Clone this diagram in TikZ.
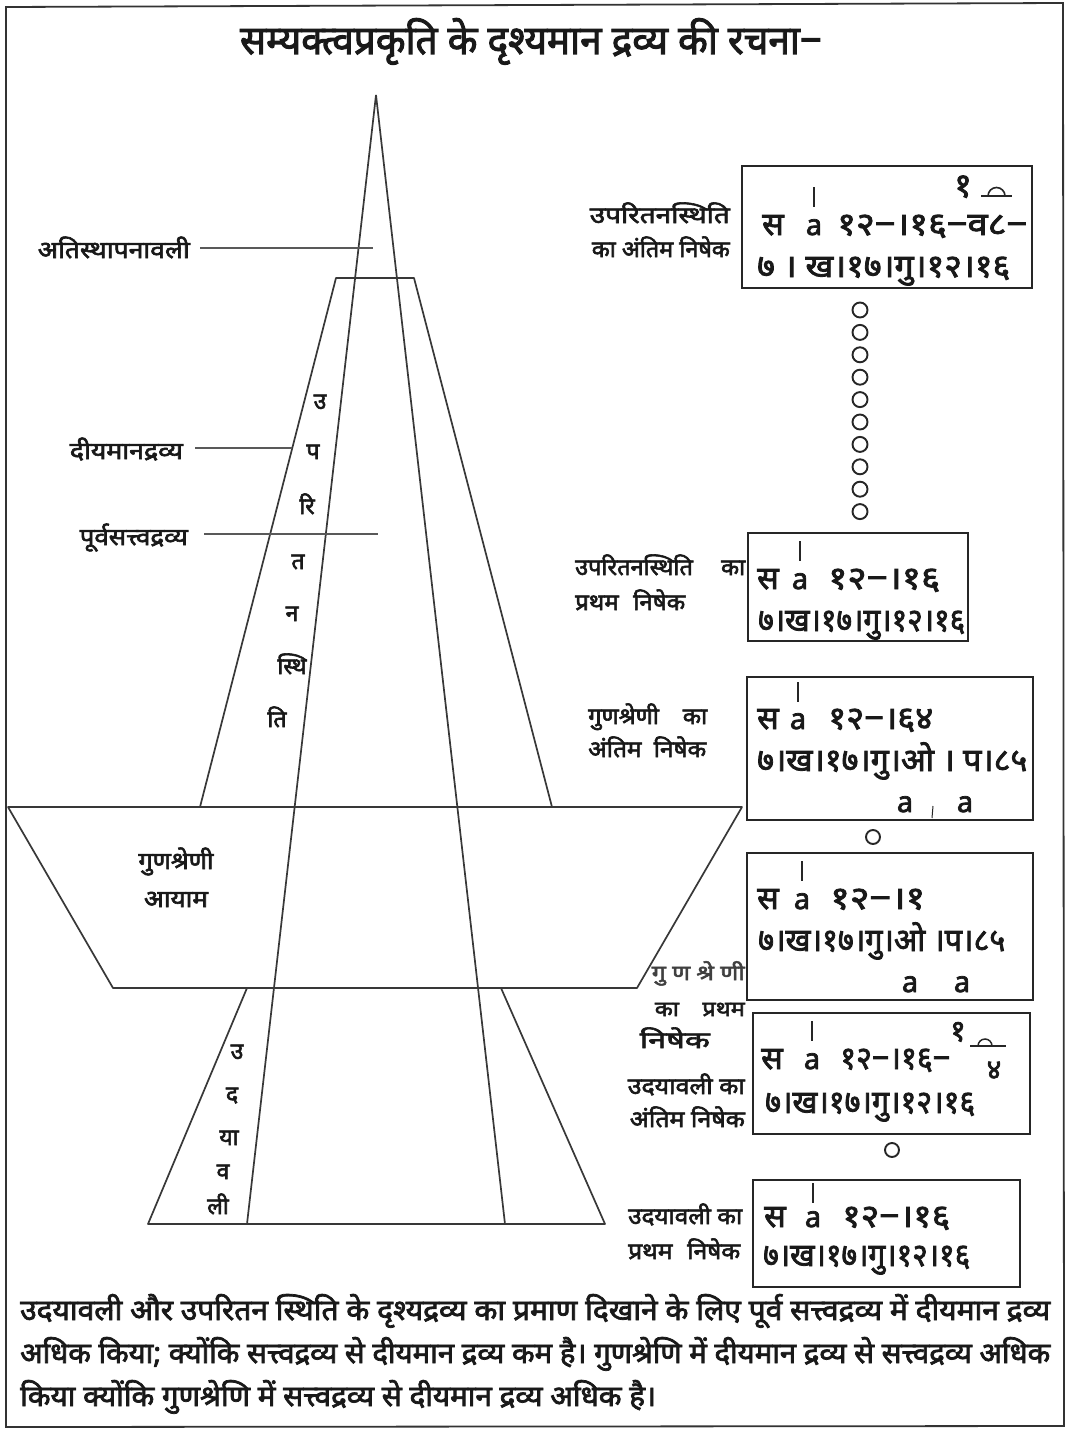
\documentclass[tikz,border=0pt]{standalone}
\usepackage{fontspec}
\usepackage{graphicx}
\newfontfamily\dev[Script=Devanagari,FakeBold=2.5]{Noto Sans}
\newcommand{\fw}[2]{\resizebox{#1pt}{\height}{#2}}
\newcommand{\fs}[1]{\fontsize{#1}{#1}\selectfont}
\begin{document}
\begin{tikzpicture}[x=1pt,y=-1pt,
  shp/.style={line width=1.7pt,draw=black!78,line join=round},
  boxl/.style={line width=2.1pt,draw=black!85},
  lead/.style={line width=1.2pt,draw=black!65},
  txt/.style={inner sep=0pt,font=\dev,text=black!90},
  bar/.style={line width=1.7pt,draw=black!85},
  dotc/.style={line width=1.9pt,draw=black!85}]
\useasboundingbox (0,0) rectangle (1070,1429);
\fill[white] (0,0) rectangle (1070,1429);
% frame
\draw[line width=1.8pt,draw=black!80] (6,7) -- (1063,3) -- (1064,1426) -- (6,1427) -- cycle;
% title
\node[txt,anchor=base] (title) at (531,54) {\fw{582}{\fs{40}सम्यक्त्वप्रकृति के दृश्यमान द्रव्य की रचना−}};
% shapes
\coordinate (apex) at (376,95);
\draw[shp] (apex) -- (247,1224);
\draw[shp] (apex) -- (505,1224);
\draw[shp] (200,807) -- (336,278) -- (414,278) -- (552,807);
\draw[shp] (8,807) -- (742,807) -- (637,988) -- (113,988) -- cycle;
\draw[shp] (247,988) -- (148,1224) -- (605,1224) -- (501,988);
% left labels
\node[txt,anchor=base east] (ati) at (190,258) {\fw{152}{\fs{24}अतिस्थापनावली}};
\coordinate (atiA) at (200,248); \coordinate (atiB) at (373,248);
\draw[lead] (atiA) -- (atiB);
\node[txt,anchor=base east] (diy) at (183,459) {\fw{113}{\fs{24}दीयमानद्रव्य}};
\coordinate (diyA) at (195,448); \coordinate (diyB) at (292,448);
\draw[lead] (diyA) -- (diyB);
\node[txt,anchor=base east] (purv) at (188,545) {\fw{108}{\fs{24}पूर्वसत्त्वद्रव्य}};
\coordinate (purvA) at (204,534); \coordinate (purvB) at (378,534);
\draw[lead] (purvA) -- (purvB);
\node[txt,anchor=base] (gun1) at (176,869) {\fw{75}{\fs{24}गुणश्रेणी}};
\node[txt,anchor=base] (gun2) at (176,907) {\fw{64}{\fs{24}आयाम}};
% vertical letters upper
\node[txt,anchor=base] (u1) at (320,409) {\fs{23}उ};
\node[txt,anchor=base] (u2) at (313,459) {\fs{23}प};
\node[txt,anchor=base] (u3) at (307,514) {\fs{23}रि};
\node[txt,anchor=base] (u4) at (298,569) {\fs{23}त};
\node[txt,anchor=base] (u5) at (292,621) {\fs{23}न};
\node[txt,anchor=base] (u6) at (292,674) {\fs{23}स्थि};
\node[txt,anchor=base] (u7) at (277,727) {\fs{23}ति};
% vertical letters lower
\node[txt,anchor=base] (d1) at (237,1059) {\fs{23}उ};
\node[txt,anchor=base] (d2) at (232,1102) {\fs{23}द};
\node[txt,anchor=base] (d3) at (229,1145) {\fs{23}या};
\node[txt,anchor=base] (d4) at (223,1179) {\fs{23}व};
\node[txt,anchor=base] (d5) at (218,1214) {\fs{23}ली};
% ---- Box 1
\draw[boxl] (742,166) rectangle (1032,288);
\node[txt,anchor=base] (b1s) at (773,235) {\fs{32}स};
\node[txt,anchor=base] (b1a) at (814,235) {\fs{29}a};
\draw[bar] (814,187) -- (814,207);
\node[txt,anchor=base west] (b1r) at (837,235) {\fw{190}{\fs{32}१२−।१६−व८−}};
\node[txt,anchor=base west] (b1l2) at (757,277) {\fw{253}{\fs{32}७ । ख।१७।गु।१२।१६}};
\node[txt,anchor=base] (b1sup) at (963,197) {\fs{34}१};
\draw[bar,line width=1.6pt] (981,196) -- (1012,196);
\draw[bar,line width=1.6pt] (988,196) arc (180:360:8.5);
\node[txt,anchor=base east] (l1a) at (730,223) {\fw{140}{\fs{23}उपरितनस्थिति}};
\node[txt,anchor=base east] (l1b) at (730,257) {\fw{138}{\fs{23}का अंतिम निषेक}};
% column of circles
\foreach \i in {0,...,9} {\draw[dotc] (860,{310+\i*22.4}) circle (7.5);}
% ---- Box 2
\draw[boxl] (748,533) rectangle (968,641);
\node[txt,anchor=base] (b2s) at (768,589) {\fs{32}स};
\node[txt,anchor=base] (b2a) at (800,589) {\fs{29}a};
\draw[bar] (800,541) -- (800,561);
\node[txt,anchor=base west] (b2r) at (828,589) {\fw{112}{\fs{32}१२−।१६}};
\node[txt,anchor=base west] (b2l2) at (758,631) {\fw{207}{\fs{32}७।ख।१७।गु।१२।१६}};
\node[txt,anchor=base west] (l2a) at (575,575) {\fw{170}{\fs{23}उपरितनस्थिति\hspace{1.2em}का}};
\node[txt,anchor=base west] (l2b) at (575,610) {\fw{110}{\fs{23}प्रथम\hspace{0.6em}निषेक}};
% ---- Box 3
\draw[boxl] (747,677) rectangle (1033,820);
\node[txt,anchor=base] (b3s) at (768,729) {\fs{32}स};
\node[txt,anchor=base] (b3a) at (798,729) {\fs{29}a};
\draw[bar] (798,682) -- (798,702);
\node[txt,anchor=base west] (b3r) at (828,729) {\fw{105}{\fs{32}१२−।६४}};
\node[txt,anchor=base west] (b3l2) at (757,771) {\fw{270}{\fs{32}७।ख।१७।गु।ओ । प।८५}};
\node[txt,anchor=base] (b3x) at (905,812) {\fs{29}a};
\node[txt,anchor=base] (b3y) at (965,812) {\fs{29}a};
\draw[bar,line width=1pt] (933,806) -- (932,818);
\node[txt,anchor=base west] (l3a) at (588,724) {\fw{119}{\fs{23}गुणश्रेणी\hspace{1em}का}};
\node[txt,anchor=base west] (l3b) at (588,757) {\fw{118}{\fs{23}अंतिम\hspace{0.5em}निषेक}};
\draw[dotc] (873,837) circle (7);
% ---- Box 4
\draw[boxl] (747,853) rectangle (1033,1000);
\node[txt,anchor=base] (b4s) at (768,909) {\fs{32}स};
\node[txt,anchor=base] (b4a) at (802,909) {\fs{29}a};
\draw[bar] (802,861) -- (802,881);
\node[txt,anchor=base west] (b4r) at (830,909) {\fw{95}{\fs{32}१२−।१}};
\node[txt,anchor=base west] (b4l2) at (758,951) {\fw{247}{\fs{32}७।ख।१७।गु।ओ ।प।८५}};
\node[txt,anchor=base] (b4x) at (910,992) {\fs{29}a};
\node[txt,anchor=base] (b4y) at (962,992) {\fs{29}a};
\node[txt,anchor=base east,text=black!75] (l4a) at (745,980) {\fw{93}{\fs{21}गु\hspace{0.25em}ण\hspace{0.25em}श्रे\hspace{0.25em}णी}};
\node[txt,anchor=base east] (l4b) at (745,1016) {\fw{90}{\fs{21}का\hspace{1em}प्रथम}};
\node[txt,anchor=base east] (l4c) at (710,1048) {\fw{70}{\fs{23}निषेक}};
% ---- Box 5
\draw[boxl] (753,1013) rectangle (1030,1134);
\node[txt,anchor=base] (b5s) at (772,1069) {\fs{32}स};
\node[txt,anchor=base] (b5a) at (812,1069) {\fs{29}a};
\draw[bar] (812,1021) -- (812,1041);
\node[txt,anchor=base west] (b5r) at (840,1069) {\fw{110}{\fs{32}१२−।१६−}};
\node[txt,anchor=base] (b5sup) at (958,1041) {\fs{30}१};
\draw[bar,line width=1.5pt] (970,1046) -- (1006,1046);
\draw[bar,line width=1.5pt] (978,1046) arc (180:360:7);
\node[txt,anchor=base] (b5d) at (994,1079) {\fs{28}४};
\node[txt,anchor=base west] (b5l2) at (765,1113) {\fw{210}{\fs{32}७।ख।१७।गु।१२।१६}};
\node[txt,anchor=base east] (l5a) at (745,1094) {\fw{117}{\fs{23}उदयावली का}};
\node[txt,anchor=base east] (l5b) at (745,1127) {\fw{115}{\fs{23}अंतिम निषेक}};
\draw[dotc] (892,1150) circle (7);
% ---- Box 6
\draw[boxl] (753,1180) rectangle (1020,1287);
\node[txt,anchor=base] (b6s) at (775,1227) {\fs{32}स};
\node[txt,anchor=base] (b6a) at (813,1227) {\fs{29}a};
\draw[bar] (813,1183) -- (813,1203);
\node[txt,anchor=base west] (b6r) at (842,1227) {\fw{108}{\fs{32}१२−।१६}};
\node[txt,anchor=base west] (b6l2) at (763,1266) {\fw{207}{\fs{32}७।ख।१७।गु।१२।१६}};
\node[txt,anchor=base west] (l6a) at (628,1224) {\fw{114}{\fs{23}उदयावली का}};
\node[txt,anchor=base west] (l6b) at (628,1259) {\fw{112}{\fs{23}प्रथम\hspace{0.6em}निषेक}};
% ---- bottom text
\node[txt,anchor=base west] (t1) at (20,1320) {\fw{1030}{\fs{29}उदयावली और उपरितन स्थिति के दृश्यद्रव्य का प्रमाण दिखाने के लिए पूर्व सत्त्वद्रव्य में दीयमान द्रव्य}};
\node[txt,anchor=base west] (t2) at (20,1363) {\fw{1030}{\fs{29}अधिक किया; क्योंकि सत्त्वद्रव्य से दीयमान द्रव्य कम है। गुणश्रेणि में दीयमान द्रव्य से सत्त्वद्रव्य अधिक}};
\node[txt,anchor=base west] (t3) at (20,1406) {\fw{636}{\fs{29}किया क्योंकि गुणश्रेणि में सत्त्वद्रव्य से दीयमान द्रव्य अधिक है।}};
\end{tikzpicture}
\end{document}
